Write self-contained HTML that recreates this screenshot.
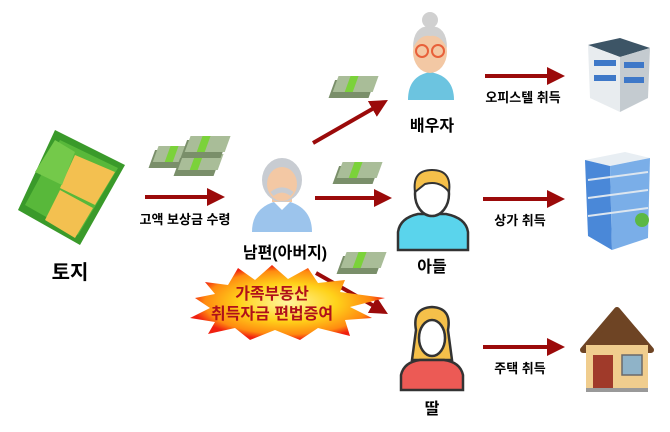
<!DOCTYPE html>
<html><head><meta charset="utf-8"><style>
body{margin:0;background:#fff;width:670px;height:427px;overflow:hidden}
svg text{font-family:"Liberation Sans","Noto Sans CJK KR",sans-serif;font-weight:bold}
</style></head><body>
<svg width="670" height="427" viewBox="0 0 670 427">
<defs>
<marker id="ah" markerWidth="4.5" markerHeight="4.5" refX="2.5" refY="2.25" orient="auto" markerUnits="strokeWidth"><path d="M0,0 L4.5,2.25 L0,4.5z" fill="#9b0a0a"/></marker>
<radialGradient id="burst" cx="50%" cy="50%" r="50%"><stop offset="0" stop-color="#fff6a0"/><stop offset=".5" stop-color="#ffd21a"/><stop offset=".85" stop-color="#ff8a10"/><stop offset="1" stop-color="#f02010"/></radialGradient>
<g id="money"><rect x="0" y="8" width="40" height="18" fill="#7a8f6a" transform="skewX(-20)"/><rect x="2" y="4" width="40" height="16" fill="#a9bd98" transform="skewX(-20)"/><rect x="14" y="4" width="8" height="16" fill="#7bd23a" transform="skewX(-20)"/></g>
</defs>
<!-- land -->
<polygon points="55,130 125,165 80,245 18,210" fill="#3a9a2a"/>
<polygon points="60,140 118,168 78,235 25,205" fill="#58b83a"/>
<polygon points="75,155 115,172 95,205 60,188" fill="#f3c050"/>
<polygon points="60,190 93,208 75,238 45,220" fill="#f3c050"/>
<polygon points="55,140 75,152 62,185 35,172" fill="#74c94a"/>
<text x="70" y="279" font-size="20" text-anchor="middle">토지</text>
<!-- money -->
<use href="#money" x="158" y="142"/><use href="#money" x="183" y="150"/><use href="#money" x="190" y="132"/><use href="#money" x="338" y="72"/><use href="#money" x="342" y="158"/><use href="#money" x="346" y="248"/>
<!-- arrows -->
<g stroke="#9b0a0a" stroke-width="4" fill="none" marker-end="url(#ah)">
<line x1="145" y1="197" x2="217" y2="197"/>
<line x1="313" y1="143" x2="381" y2="104"/>
<line x1="315" y1="198" x2="384" y2="198"/>
<line x1="316" y1="273" x2="381" y2="310"/>
<line x1="485" y1="76" x2="557" y2="76"/>
<line x1="483" y1="199" x2="557" y2="199"/>
<line x1="483" y1="347" x2="557" y2="347"/>
</g>
<text x="185" y="224" font-size="13" text-anchor="middle">고액 보상금 수령</text>
<!-- grandfather -->
<path d="M252,232 Q252,205 282,200 Q312,205 312,232z" fill="#9cc4ec"/>
<path d="M272,200 L282,210 L292,200z" fill="#fff"/>
<rect x="272" y="188" width="20" height="14" fill="#f3c8a4"/>
<ellipse cx="282" cy="180" rx="20" ry="22" fill="#c8ccd2"/>
<ellipse cx="282" cy="184" rx="15" ry="17" fill="#f3c8a4"/>
<path d="M272,194 Q282,186 292,194" stroke="#c8ccd2" stroke-width="5" fill="none"/>
<text x="285" y="258" font-size="16" text-anchor="middle">남편(아버지)</text>
<!-- burst -->
<polygon points="205,282 228,285 238,268 255,280 272,265 288,279 308,268 318,283 345,280 340,292 385,298 350,307 372,318 345,320 350,336 318,328 300,340 275,330 250,340 235,328 208,334 215,322 190,318 210,308 195,298 215,294" fill="url(#burst)"/>
<text x="272" y="299" font-size="16" text-anchor="middle" fill="#b0101a">가족부동산</text>
<text x="272" y="319" font-size="16" text-anchor="middle" fill="#b0101a">취득자금 편법증여</text>
<!-- grandma -->
<path d="M408,100 Q408,76 430,72 Q454,76 454,100z" fill="#6cc4e0"/>
<ellipse cx="430" cy="52" rx="17" ry="21" fill="#f3c8a4"/>
<path d="M413,48 Q413,26 430,26 Q447,26 447,48 Q440,34 430,36 Q420,34 413,48z" fill="#d0d0d0"/>
<circle cx="430" cy="20" r="8" fill="#d0d0d0"/>
<circle cx="422" cy="51" r="6" fill="none" stroke="#e8603a" stroke-width="2"/><circle cx="438" cy="51" r="6" fill="none" stroke="#e8603a" stroke-width="2"/>
<text x="432" y="131" font-size="16" text-anchor="middle">배우자</text>
<!-- son -->
<path d="M398,250 L398,232 Q400,218 418,214 L446,214 Q466,218 468,232 L468,250z" fill="#5ad4ec" stroke="#333" stroke-width="2.5"/>
<ellipse cx="432" cy="194" rx="17" ry="22" fill="#fff" stroke="#333" stroke-width="2.5"/>
<path d="M415,192 Q412,170 432,170 Q452,170 449,192 Q440,180 425,184z" fill="#f5c04a" stroke="#333" stroke-width="2"/>
<text x="432" y="272" font-size="16" text-anchor="middle">아들</text>
<!-- daughter -->
<path d="M416,330 Q412,308 432,307 Q452,308 448,330 L452,360 L412,360z" fill="#f5c04a" stroke="#333" stroke-width="2.5"/>
<ellipse cx="432" cy="338" rx="13" ry="18" fill="#fff" stroke="#333" stroke-width="2.5"/>
<path d="M401,390 L401,375 Q404,362 420,360 L444,360 Q460,362 463,375 L463,390z" fill="#ec5a55" stroke="#333" stroke-width="2.5"/>
<text x="432" y="414" font-size="16" text-anchor="middle">딸</text>
<text x="523" y="102" font-size="13" text-anchor="middle">오피스텔 취득</text>
<text x="520" y="225" font-size="13" text-anchor="middle">상가 취득</text>
<text x="520" y="373" font-size="13" text-anchor="middle">주택 취득</text>
<!-- office -->
<polygon points="588,45 620,38 650,48 620,57" fill="#3d5566"/>
<polygon points="588,45 620,57 620,112 590,98" fill="#e8ecef"/>
<polygon points="620,57 650,48 648,98 620,112" fill="#c4cbd0"/>
<g fill="#3e78c8"><rect x="594" y="60" width="22" height="6"/><rect x="594" y="75" width="22" height="6"/><rect x="624" y="62" width="20" height="6"/><rect x="624" y="77" width="20" height="6"/></g>
<!-- tower -->
<polygon points="585,160 625,152 650,158 610,166" fill="#e8eef3"/>
<polygon points="585,160 610,166 612,250 588,236" fill="#4a88d8"/>
<polygon points="610,166 650,158 648,238 612,250" fill="#7aaee8"/>
<g stroke="#dde6ef" stroke-width="2"><line x1="588" y1="180" x2="648" y2="172"/><line x1="588" y1="198" x2="648" y2="190"/><line x1="588" y1="216" x2="648" y2="208"/></g>
<circle cx="642" cy="220" r="7" fill="#5cb844"/>
<!-- house -->
<polygon points="583,350 617,310 651,350" fill="#6e4424" stroke="#6e4424" stroke-width="6" stroke-linejoin="round"/>
<rect x="586" y="345" width="62" height="45" fill="#f0cd8e"/>
<rect x="593" y="355" width="20" height="33" fill="#a03a2a"/>
<rect x="622" y="355" width="20" height="20" fill="#8fb3c8" stroke="#6a6a6a" stroke-width="1.5"/>
<rect x="586" y="388" width="62" height="4" fill="#999"/>
</svg>
</body></html>
